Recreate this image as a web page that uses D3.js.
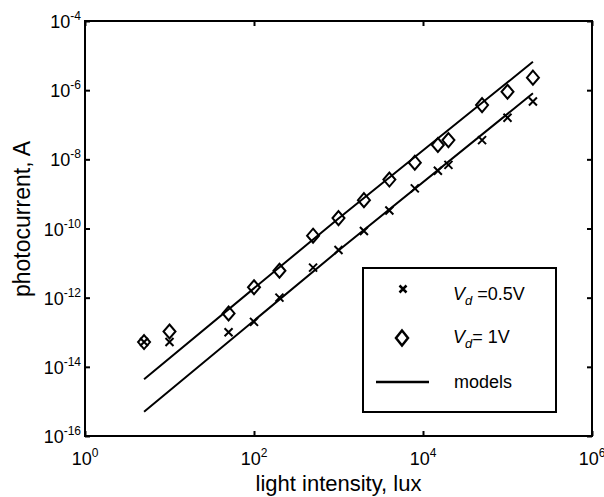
<!DOCTYPE html>
<html lang="en">
<head>
<meta charset="UTF-8">
<title>Photocurrent vs light intensity</title>
<script src="https://d3js.org/d3.v7.min.js"></script>
<style>
    body { margin: 0; background: #fff; font-family: "Liberation Sans", Arial, sans-serif; }
    svg text { fill: #000; }
</style>
</head>
<body>
<div id="chart"></div>
<script>
// measured points (lux, A)
const lux = [5, 10, 50, 100, 200, 500, 1000, 2000, 4000, 8000, 15000, 20000, 50000, 100000, 200000];
const cur05V = [5.2e-14, 5.2e-14, 1e-13, 2e-13, 1e-12, 7.4e-12, 2.4e-11, 8.5e-11, 3.3e-10, 1.45e-9, 4.7e-9, 6.9e-9, 3.6e-8, 1.6e-7, 4.7e-7];
const cur1V = [5.2e-14, 1.05e-13, 3.5e-13, 2e-12, 6e-12, 6.2e-11, 2e-10, 6.6e-10, 2.6e-9, 8e-9, 2.6e-8, 3.6e-8, 3.7e-7, 9e-7, 2.3e-6];

// model curves
const modelLux = [5, 1000, 200000];
const model05V = [5e-16, 2.3e-11, 8.1e-7];
const model1V = [4.4e-15, 1.95e-10, 6.6e-6];

// tick exponents
const xTickExp = [0, 2, 4, 6];
const yTickExp = [-4, -6, -8, -10, -12, -14, -16];

const W = 604, H = 497;
const m = { left: 85, top: 21, right: 12, bottom: 61 };

const svg = d3.select("#chart").append("svg")
    .attr("width", W).attr("height", H);

const x = d3.scaleLog().domain([1, 1e6]).range([m.left, W - m.right]);
const y = d3.scaleLog().domain([1e-16, 1e-4]).range([H - m.bottom, m.top]);

const x0 = x.range()[0], x1 = x.range()[1];
const y0 = y.range()[0], y1 = y.range()[1];

// ticks on all four sides, pointing inward
const tv = xTickExp.map(e => Math.pow(10, e));
const yv = yTickExp.map(e => Math.pow(10, e));
svg.append("g").attr("transform", `translate(0,${y0})`)
    .call(d3.axisBottom(x).tickValues(tv).tickSize(-5).tickFormat(""));
svg.append("g").attr("transform", `translate(0,${y1})`)
    .call(d3.axisTop(x).tickValues(tv).tickSize(-5).tickFormat(""));
svg.append("g").attr("transform", `translate(${x0},0)`)
    .call(d3.axisLeft(y).tickValues(yv).tickSize(-5).tickFormat(""));
svg.append("g").attr("transform", `translate(${x1},0)`)
    .call(d3.axisRight(y).tickValues(yv).tickSize(-5).tickFormat(""));
svg.selectAll(".domain").remove();
svg.selectAll(".tick line").attr("stroke", "#000").attr("stroke-width", 2);

// frame
svg.append("rect")
    .attr("x", x0).attr("y", y1)
    .attr("width", x1 - x0).attr("height", y0 - y1)
    .attr("fill", "none").attr("stroke", "#000").attr("stroke-width", 2);

// tick labels 10^n
function powLabel(sel, e) {
    sel.append("tspan").text("10");
    sel.append("tspan").attr("dy", -8).attr("font-size", 12)
        .text(e < 0 ? "-" + (-e) : e);
}
xTickExp.forEach(e => {
    const t = svg.append("text")
        .attr("x", x(Math.pow(10, e))).attr("y", 465)
        .attr("text-anchor", "middle").attr("font-size", 18);
    powLabel(t, e);
});
yTickExp.forEach(e => {
    const t = svg.append("text")
        .attr("x", x0 - 4).attr("y", y(Math.pow(10, e)) + 7)
        .attr("text-anchor", "end").attr("font-size", 18);
    powLabel(t, e);
});

// axis titles
svg.append("text")
    .attr("x", (x0 + x1) / 2).attr("y", 491)
    .attr("text-anchor", "middle").attr("font-size", 22)
    .text("light intensity, lux");
svg.append("text")
    .attr("transform", `translate(30,219) rotate(-90)`)
    .attr("text-anchor", "middle").attr("font-size", 23)
    .text("photocurrent, A");

// model lines
const line = d3.line().x(d => x(d[0])).y(d => y(d[1]));
[model05V, model1V].forEach(arr => {
    svg.append("path")
        .attr("d", line(modelLux.map((v, i) => [v, arr[i]])))
        .attr("fill", "none").attr("stroke", "#000").attr("stroke-width", 2);
});

// markers
function crossPath(s) {
    return `M${-s},${-s}L${s},${s}M${-s},${s}L${s},${-s}`;
}
function diamondPath(w, h) {
    return `M0,${-h}L${w},0L0,${h}L${-w},0Z`;
}
svg.append("g").selectAll("path")
    .data(lux.map((v, i) => [v, cur05V[i]]))
    .enter().append("path")
    .attr("transform", d => `translate(${x(d[0])},${y(d[1])})`)
    .attr("d", crossPath(4))
    .attr("fill", "none").attr("stroke", "#000").attr("stroke-width", 2);
svg.append("g").selectAll("path")
    .data(lux.map((v, i) => [v, cur1V[i]]))
    .enter().append("path")
    .attr("transform", d => `translate(${x(d[0])},${y(d[1])})`)
    .attr("d", diamondPath(6, 7))
    .attr("fill", "none").attr("stroke", "#000").attr("stroke-width", 2);

// legend
const lg = svg.append("g");
lg.append("rect")
    .attr("x", 363).attr("y", 268).attr("width", 193).attr("height", 144)
    .attr("fill", "#fff").attr("stroke", "#000").attr("stroke-width", 2);
lg.append("path").attr("transform", "translate(403,289)")
    .attr("d", crossPath(3.5))
    .attr("fill", "none").attr("stroke", "#000").attr("stroke-width", 2.5);
lg.append("path").attr("transform", "translate(402,338)")
    .attr("d", diamondPath(6, 7.5))
    .attr("fill", "none").attr("stroke", "#000").attr("stroke-width", 2.5);
lg.append("line").attr("x1", 376).attr("x2", 429).attr("y1", 382).attr("y2", 382)
    .attr("stroke", "#000").attr("stroke-width", 2.5);

function vdLabel(yy, rest) {
    const t = lg.append("text").attr("x", 453).attr("y", yy).attr("font-size", 18);
    t.append("tspan").attr("font-style", "italic").text("V");
    t.append("tspan").attr("font-style", "italic").attr("font-size", 13).attr("dy", 5).text("d");
    t.append("tspan").attr("dy", -5).text(rest);
}
vdLabel(300, " =0.5V");
vdLabel(343, "= 1V");
lg.append("text").attr("x", 454).attr("y", 388).attr("font-size", 18).text("models");
</script>
</body>
</html>
